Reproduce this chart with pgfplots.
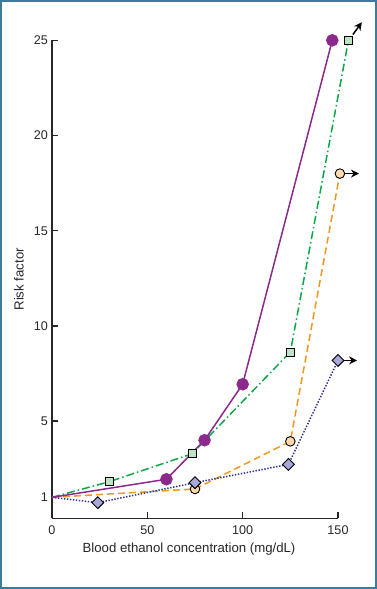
\documentclass[border=0pt]{standalone}
\usepackage{fontspec}
\setmainfont{Liberation Sans}
\usepackage{pgfplots}
\pgfplotsset{compat=1.18}
\usetikzlibrary{arrows.meta}
\definecolor{frameblue}{HTML}{3E7AA0}
\definecolor{cpurple}{HTML}{8B2A8C}
\definecolor{cgreen}{HTML}{0BA84A}
\definecolor{cgreenfill}{HTML}{BEE3C4}
\definecolor{corange}{HTML}{F7941D}
\definecolor{corangefill}{HTML}{FDD9AC}
\definecolor{cblue}{HTML}{2E3192}
\definecolor{cbluefill}{HTML}{A8A8D8}
\begin{document}
\begin{tikzpicture}
\useasboundingbox (0,0) rectangle (377pt,589pt);
\draw[frameblue, line width=2pt] (1pt,1pt) rectangle (376pt,588pt);
\begin{axis}[
  at={(52pt,70.7pt)}, anchor=south west,
  scale only axis, width=286pt, height=478pt,
  xmin=0, xmax=150, ymin=-0.1, ymax=25,
  axis x line*=bottom, axis y line*=left,
  axis line style={line width=1.5pt, black!85, -},
  every tick/.style={line width=1.5pt, black!85},
  tick align=inside, major tick length=6pt,
  xtick={0,50,100,150}, ytick={1,5,10,15,20,25},
  minor tick num=0,
  clip=false,
  /pgf/number format/assume math mode=true,
  tick label style={font=\fontsize{12.6}{14}\selectfont, text=black!85},
  xticklabel style={yshift=-3.5pt},
  yticklabel style={xshift=-0.5pt},
  xlabel={Blood ethanol concentration (mg/dL)},
  ylabel={Risk factor},
  label style={font=\fontsize{13.2}{15}\selectfont, text=black!85},
  xlabel style={at={(axis description cs:0.479,-0.0723)}, anchor=base},
  ylabel style={at={(axis description cs:-0.1154,0.5)}, anchor=center, rotate=0},
]
% orange dashed, circles
\addplot[corange, line width=1.5pt, dash pattern=on 7pt off 4pt,
  mark=*, mark size=4.8pt, mark indices={2,3,4},
  mark options={solid, fill=corangefill, draw=black, line width=0.9pt}]
  coordinates {(0,1) (75,1.44) (125,3.94) (151,18)};
% blue dotted, diamonds
\addplot[cblue, line width=1.5pt, dash pattern=on 1.4pt off 1.6pt,
  mark=square*, mark size=4.2pt, mark indices={2,3,4,5},
  mark options={solid, rotate=45, fill=cbluefill, draw=black, line width=0.9pt}]
  coordinates {(0,1) (24,0.72) (75,1.77) (124,2.73) (150,8.19)};
% green dash-dot, squares
\addplot[cgreen, line width=1.5pt, dash pattern=on 8pt off 3pt on 1.5pt off 3pt,
  mark=square*, mark size=4pt, mark indices={2,3,4,5},
  mark options={solid, fill=cgreenfill, draw=black, line width=0.9pt}]
  coordinates {(0,1) (30,1.82) (73.5,3.29) (125,8.63) (155.5,25)};
% purple solid, filled circles
\addplot[cpurple, line width=1.5pt,
  mark=*, mark size=5.5pt, mark indices={2,3,4,5},
  mark options={solid, fill=cpurple, draw=cpurple}]
  coordinates {(0,1) (60,1.95) (80,4.0) (100,6.94) (147,25)};
% arrows
\addplot[black, line width=1.5pt, -{Stealth[length=8pt,width=8pt]}]
  coordinates {(157.8,25.3) (162.5,25.95)};
\addplot[black, line width=1.5pt, -{Stealth[length=8pt,width=8pt]}]
  coordinates {(153.6,18) (161,18)};
\addplot[black, line width=1.5pt, -{Stealth[length=8pt,width=8pt]}]
  coordinates {(152.8,8.19) (160,8.19)};
\end{axis}
\end{tikzpicture}
\end{document}
